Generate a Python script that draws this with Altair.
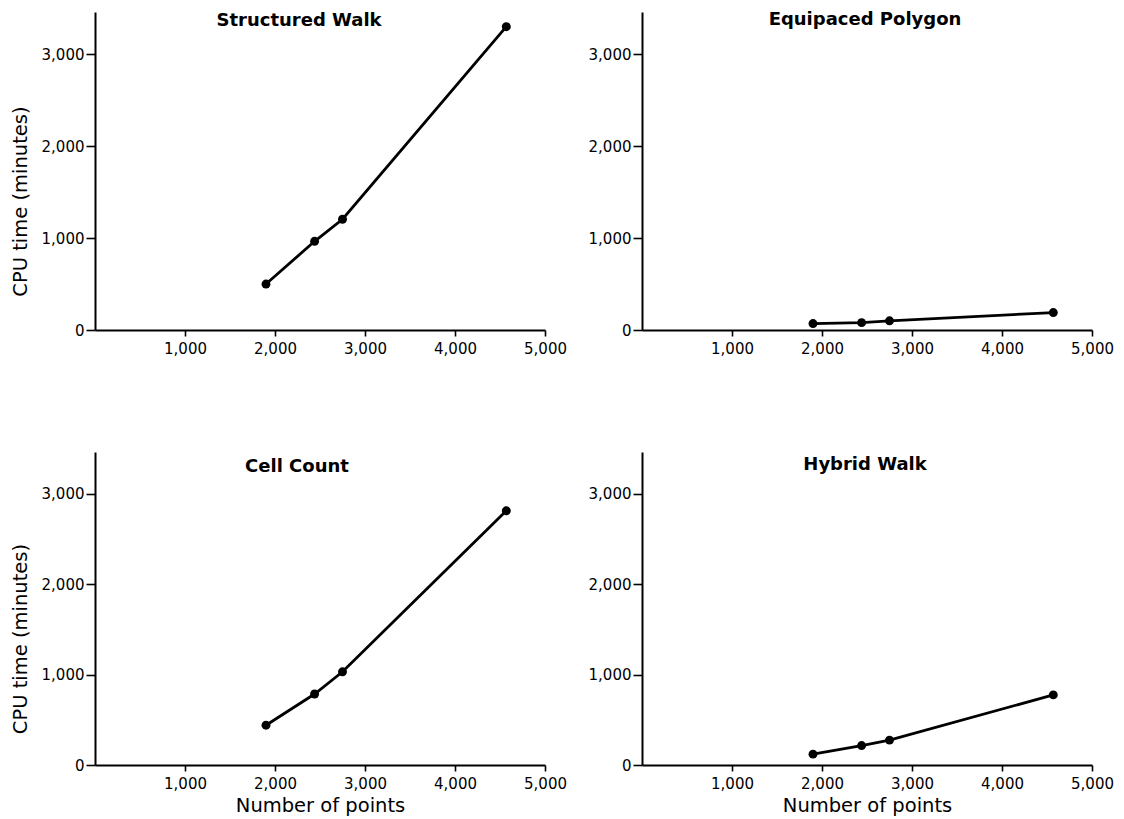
import altair as alt
import pandas as pd

# ---- data ----
n_points = [1900, 2440, 2750, 4570]
structured_walk = [500, 965, 1205, 3300]
equipaced_polygon = [70, 80, 100, 190]
cell_count = [440, 785, 1030, 2810]
hybrid_walk = [120, 215, 275, 775]

x_ticks = [1000, 2000, 3000, 4000, 5000]
y_ticks = [0, 1000, 2000, 3000]

FONT = "DejaVu Sans"
W = 450
H_TOP = 318
H_BOT = 313
Y_MAX = 3460


def panel(title, values, height, left, bottom, title_dy, title_dx):
    df = pd.DataFrame({"n": n_points, "cpu": values})
    x_axis = alt.Axis(
        values=x_ticks, format=",d", tickSize=6, labelPadding=5,
        labelFlush=False, labelOverlap=False, grid=False,
        title="Number of points" if bottom else None,
        titleFontSize=19.5, titleFontWeight="normal", titleFont=FONT,
        titlePadding=5,
    )
    y_axis = alt.Axis(
        values=y_ticks, format=",d", tickSize=9, labelPadding=2,
        labelFlush=False, labelOverlap=False, grid=False,
        title="CPU time (minutes)" if left else None,
        titleFontSize=19.5, titleFontWeight="normal", titleFont=FONT,
        titlePadding=11, titleY=height / 2 + 30,
    )
    x = alt.X("n:Q", scale=alt.Scale(domain=[0, 5000], nice=False, zero=True), axis=x_axis)
    y = alt.Y("cpu:Q", scale=alt.Scale(domain=[0, Y_MAX], nice=False), axis=y_axis)
    base = alt.Chart(df).encode(x=x, y=y)
    line = base.mark_line(color="black", strokeWidth=2.8)
    pts = base.mark_circle(color="black", size=80, opacity=1)
    label = alt.Chart(pd.DataFrame({"t": [title]})).mark_text(
        font=FONT, fontSize=18, fontWeight="bold", color="black",
        align="center", baseline="alphabetic",
    ).encode(
        text="t:N",
        x=alt.value(W / 2 + title_dx),
        y=alt.value(title_dy),
    )
    return alt.layer(line, pts, label).properties(width=W, height=height)


tl = panel("Structured Walk", structured_walk, H_TOP, True, False, 14, -21)
tr = panel("Equipaced Polygon", equipaced_polygon, H_TOP, False, False, 13, -2)
bl = panel("Cell Count", cell_count, H_BOT, True, True, 20, -23)
br = panel("Hybrid Walk", hybrid_walk, H_BOT, False, True, 18, -2)

chart = alt.vconcat(
    alt.hconcat(tl, tr, spacing=21),
    alt.hconcat(bl, br, spacing=21),
    spacing=96,
).properties(
    padding={"left": 2, "top": 3, "right": 2, "bottom": 2},
    background="white",
).configure_view(
    stroke=None
).configure_axis(
    domainColor="black", domainWidth=2, tickColor="black", tickWidth=1.6,
    labelColor="black", labelFont=FONT, labelFontSize=15, titleColor="black",
)

chart.save("out.html", embed_options={"renderer": "svg", "actions": False})
